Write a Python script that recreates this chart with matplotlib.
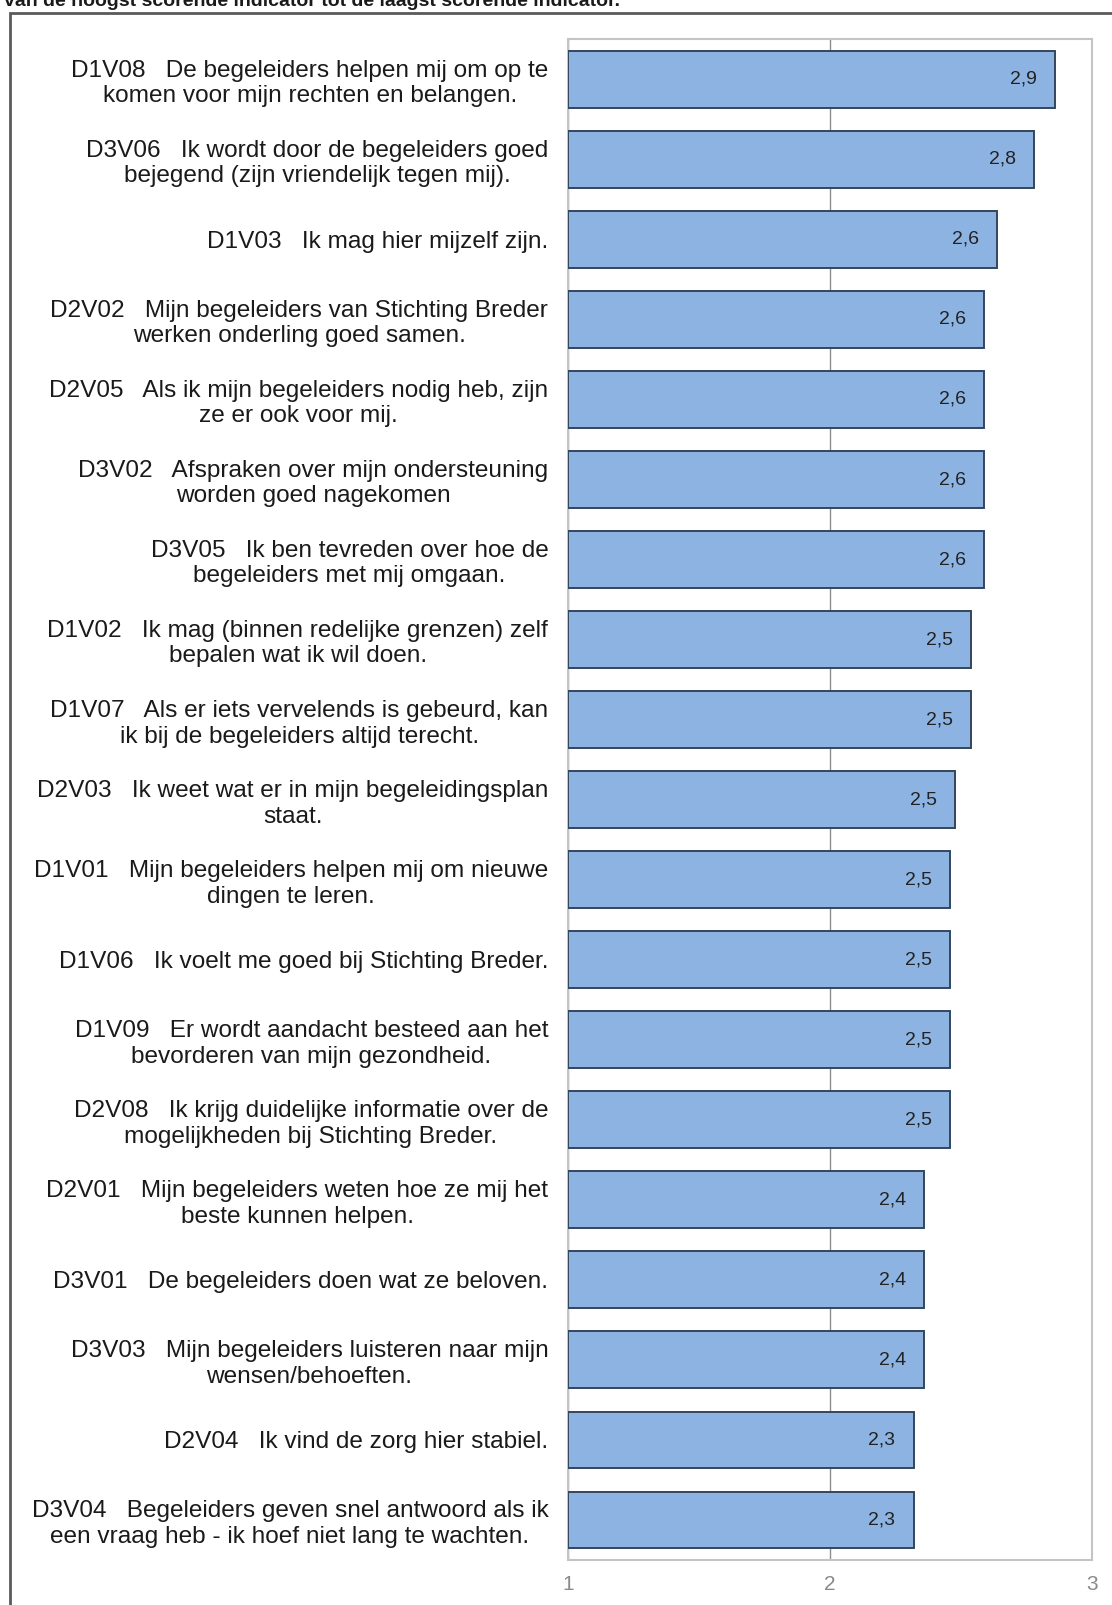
import matplotlib
matplotlib.use("Agg")
import matplotlib.pyplot as plt
from matplotlib.patches import Rectangle

plt.rcParams['font.family'] = ['Liberation Sans', 'DejaVu Sans']

# Indicators, sorted from highest to lowest score
categories = [
    "D1V08   De begeleiders helpen mij om op te\nkomen voor mijn rechten en belangen.",
    "D3V06   Ik wordt door de begeleiders goed\nbejegend (zijn vriendelijk tegen mij).",
    "D1V03   Ik mag hier mijzelf zijn.",
    "D2V02   Mijn begeleiders van Stichting Breder\nwerken onderling goed samen.",
    "D2V05   Als ik mijn begeleiders nodig heb, zijn\nze er ook voor mij.",
    "D3V02   Afspraken over mijn ondersteuning\nworden goed nagekomen",
    "D3V05   Ik ben tevreden over hoe de\nbegeleiders met mij omgaan.",
    "D1V02   Ik mag (binnen redelijke grenzen) zelf\nbepalen wat ik wil doen.",
    "D1V07   Als er iets vervelends is gebeurd, kan\nik bij de begeleiders altijd terecht.",
    "D2V03   Ik weet wat er in mijn begeleidingsplan\nstaat.",
    "D1V01   Mijn begeleiders helpen mij om nieuwe\ndingen te leren.",
    "D1V06   Ik voelt me goed bij Stichting Breder.",
    "D1V09   Er wordt aandacht besteed aan het\nbevorderen van mijn gezondheid.",
    "D2V08   Ik krijg duidelijke informatie over de\nmogelijkheden bij Stichting Breder.",
    "D2V01   Mijn begeleiders weten hoe ze mij het\nbeste kunnen helpen.",
    "D3V01   De begeleiders doen wat ze beloven.",
    "D3V03   Mijn begeleiders luisteren naar mijn\nwensen/behoeften.",
    "D2V04   Ik vind de zorg hier stabiel.",
    "D3V04   Begeleiders geven snel antwoord als ik\neen vraag heb - ik hoef niet lang te wachten.",
]
scores = [2.86, 2.78, 2.64, 2.59, 2.59, 2.59, 2.59, 2.54, 2.54, 2.48,
          2.46, 2.46, 2.46, 2.46, 2.36, 2.36, 2.36, 2.32, 2.32]
x_ticks = [1, 2, 3]
x_tick_labels = ["1", "2", "3"]
title = "van de hoogst scorende indicator tot de laagst scorende indicator."

W, H = 1112, 1605
fig = plt.figure(figsize=(W / 100, H / 100), dpi=100)
fig.patch.set_facecolor('white')

# plot area in pixel terms
left, right, top, bottom = 567.7, 1091.7, 39.3, 1560.0
ax = fig.add_axes([left / W, 1 - bottom / H, (right - left) / W, (bottom - top) / H])

pos = list(range(len(categories)))
ax.barh(pos, [s - 1 for s in scores], left=1, height=0.71,
        color='#8DB3E2', edgecolor='#35455C', linewidth=1.4, zorder=3)

for p, s in zip(pos, scores):
    ax.annotate(f"{s:.1f}".replace('.', ','), xy=(s, p), xytext=(-13, 0),
                textcoords='offset points', ha='right', va='center',
                fontsize=14, color='#222222', zorder=4)

ax.set_xlim(1, 3)
ax.set_ylim(len(categories) - 0.5, -0.5)
ax.set_xticks(x_ticks)
ax.set_xticklabels(x_tick_labels)
ax.set_yticks(pos)
ax.set_yticklabels(categories)
for t in ax.get_yticklabels():
    t.set_multialignment('center')
    t.set_linespacing(1.2)

ax.tick_params(axis='y', length=0, pad=14, labelsize=17.6, labelcolor='#1a1a1a')
ax.tick_params(axis='x', length=0, pad=11, labelsize=15, labelcolor='#8a8a8a')

ax.xaxis.grid(True, color='#8c8c8c', linewidth=1.0, zorder=1)
ax.set_axisbelow(True)
for sp in ax.spines.values():
    sp.set_color('#c4c4c4')
    sp.set_linewidth(1.5)
    sp.set_zorder(2)

# outer chart frame
fig.add_artist(Rectangle((10 / W, -0.05), 1.2, (H - 13) / H + 0.05,
                         transform=fig.transFigure, fill=False,
                         edgecolor='#5a5a5a', linewidth=2))

# heading above the frame, only partly within the canvas
fig.text(4 / W, 1 - 6.5 / H, title, ha='left', va='baseline',
         fontsize=14, fontweight='bold', color='#1a1a1a')

fig.savefig('out.png', dpi=100, facecolor='white')
